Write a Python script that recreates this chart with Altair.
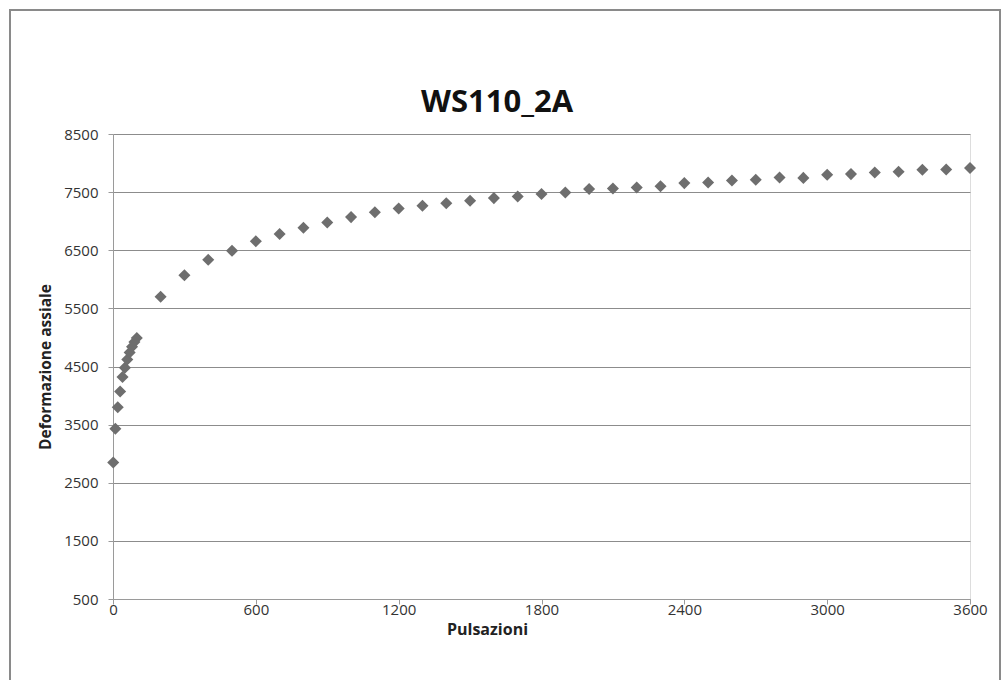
import altair as alt
import pandas as pd

# Pulse count and measured axial deformation
pulsazioni = [1, 10, 20, 30, 40, 50, 60, 70, 80, 90, 100,
              200, 300, 400, 500, 600, 700, 800, 900, 1000,
              1100, 1200, 1300, 1400, 1500, 1600, 1700, 1800, 1900, 2000,
              2100, 2200, 2300, 2400, 2500, 2600, 2700, 2800, 2900, 3000,
              3100, 3200, 3300, 3400, 3500, 3600]
deformazione = [2850, 3430, 3800, 4070, 4320, 4480, 4620, 4740, 4840, 4920, 4990,
                5700, 6070, 6335, 6490, 6655, 6780, 6886, 6977, 7070,
                7155, 7219, 7264, 7310, 7350, 7397, 7426, 7468, 7493, 7552,
                7562, 7579, 7600, 7655, 7665, 7700, 7712, 7750, 7745, 7798,
                7810, 7838, 7852, 7884, 7890, 7915]

x_ticks = [0, 600, 1200, 1800, 2400, 3000, 3600]
y_ticks = [500, 1500, 2500, 3500, 4500, 5500, 6500, 7500, 8500]
chart_title = "WS110_2A"

df = pd.DataFrame({"Pulsazioni": pulsazioni, "Deformazione": deformazione})

FONT = "Open Sans"
W, H = 857, 465

points = alt.Chart(df).mark_point(
    shape="diamond", filled=True, size=145, color="#6e6e6e", opacity=1
).encode(
    x=alt.X("Pulsazioni:Q",
            scale=alt.Scale(domain=[0, 3600], nice=False, zero=False),
            axis=alt.Axis(values=x_ticks, format="d", title="Pulsazioni", grid=False,
                          domainColor="#9a9a9a", tickColor="#9a9a9a", tickSize=5,
                          labelFlush=False,
                          labelFont=FONT, labelFontSize=15, labelColor="#333333",
                          labelPadding=-2, titleFont=FONT, titleFontSize=16,
                          titleFontWeight="bold", titleColor="#222222",
                          titlePadding=4, titleX=374)),
    y=alt.Y("Deformazione:Q",
            scale=alt.Scale(domain=[500, 8500], nice=False, zero=False),
            axis=alt.Axis(values=y_ticks, format="d", title="Deformazione  assiale",
                          grid=True, gridColor="#8c8c8c", gridWidth=1,
                          domainColor="#9a9a9a", tickColor="#9a9a9a", tickSize=5,
                          labelFlush=False,
                          labelFont=FONT, labelFontSize=15, labelColor="#333333",
                          labelPadding=10, titleFont=FONT, titleFontSize=15.5,
                          titleFontWeight="bold", titleColor="#222222",
                          titlePadding=10)),
)

# Outer frame around the whole chart
frame = alt.Chart(df).mark_rect(
    fill=None, stroke="#8a8a8a", strokeWidth=2
).encode(
    x=alt.value(-103), x2=alt.value(887),
    y=alt.value(-124), y2=alt.value(560),
)

# Chart heading, centred on the frame
heading = alt.Chart(pd.DataFrame({"t": [chart_title]})).mark_text(
    font=FONT, fontSize=31, fontWeight="bold", color="#111111",
    align="center", baseline="alphabetic"
).encode(
    text="t:N", x=alt.value(384), y=alt.value(-22),
)

chart = alt.layer(frame, points, heading).properties(
    width=W, height=H,
    padding={"left": 113, "top": 134, "right": 32, "bottom": 81},
    autosize=alt.AutoSizeParams(type="none"),
).configure_view(stroke=None).configure(background="white")

chart.save("out.html", embed_options={"renderer": "svg", "actions": False})
